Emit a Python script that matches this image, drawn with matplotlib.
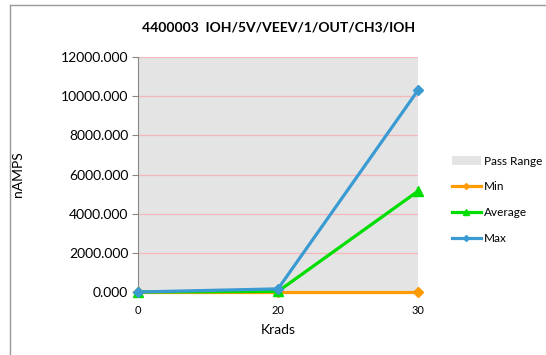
import matplotlib
matplotlib.use("Agg")
import matplotlib.pyplot as plt
from matplotlib.patches import Patch
from matplotlib.lines import Line2D

plt.rcParams["font.family"] = ["Lato", "DejaVu Sans"]

krads = ["0", "20", "30"]
min_vals = [0, 0, 0]
avg_vals = [0, 30, 5150]
max_vals = [0, 160, 10300]
pass_range = [12000, 12000, 12000]

fig = plt.figure(figsize=(5.46, 3.55), dpi=100)
ax = fig.add_axes([138 / 546, 1 - 292 / 355, 280 / 546, 235 / 355])

x = list(range(len(krads)))
ax.fill_between(x, 0, pass_range, color="#E4E4E4", zorder=0, lw=0)
for v in range(2000, 12001, 2000):
    ax.axhline(v, color="#F4B8B8", lw=0.9, zorder=1)

ax.plot(x, min_vals, color="#FF9A00", lw=2.3, marker="D", ms=5, zorder=3, clip_on=False)
ax.plot(x, avg_vals, color="#00DD00", lw=2.3, marker="^", ms=7, zorder=4, clip_on=False)
ax.plot(x, max_vals, color="#3A9AD2", lw=2.3, marker="D", ms=5, zorder=5, clip_on=False)

ax.set_xlim(0, 2)
ax.set_ylim(0, 12000)
ax.set_yticks(range(0, 12001, 2000))
ax.set_yticklabels([f"{v:.3f}" for v in range(0, 12001, 2000)], fontsize=10)
ax.set_xticks(x)
ax.set_xticklabels(krads, fontsize=8)
ax.tick_params(axis="x", length=0, pad=9)
ax.tick_params(axis="y", length=4, color="#888888", pad=3)
for s in ("top", "right", "bottom"):
    ax.spines[s].set_visible(False)
ax.spines["left"].set_color("#888888")

ax.set_xlabel("Krads", fontsize=10, labelpad=6)
ax.set_ylabel("nAMPS", fontsize=10)
ax.yaxis.set_label_coords((24 - 138) / 280, 0.5)
fig.text(279 / 546, 1 - 28 / 355, "4400003  IOH/5V/VEEV/1/OUT/CH3/IOH",
         fontsize=10, weight="bold", ha="center", va="center")

handles = [
    Patch(facecolor="#E4E4E4", edgecolor="none"),
    Line2D([], [], color="#FF9A00", lw=2.3, marker="D", ms=3),
    Line2D([], [], color="#00DD00", lw=2.3, marker="^", ms=4),
    Line2D([], [], color="#3A9AD2", lw=2.3, marker="D", ms=3),
]
fig.legend(handles, ["Pass Range", "Min", "Average", "Max"],
           loc="upper left", bbox_to_anchor=(441 / 546, 1 - 145 / 355),
           frameon=False, fontsize=8.5, labelspacing=1.25,
           handlelength=2.5, handletextpad=0.2)

# outer chart frame
fig.add_artist(Line2D([10 / 546, 10 / 546], [0, 1 - 5 / 355], color="#999999", lw=1))
fig.add_artist(Line2D([10 / 546, 1], [1 - 5 / 355, 1 - 5 / 355], color="#999999", lw=1))

fig.savefig("out.png", dpi=100)
